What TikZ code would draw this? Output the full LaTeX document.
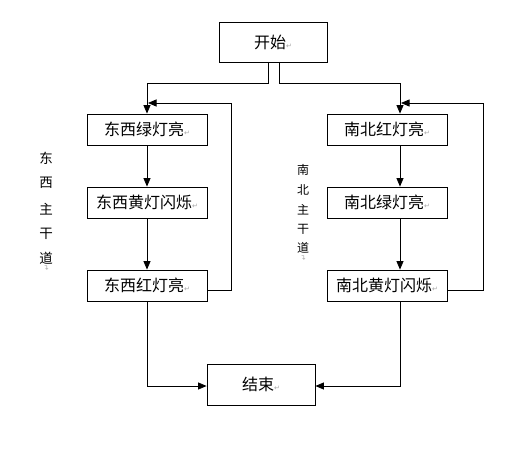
\documentclass[tikz,border=0pt]{standalone}
\usepackage{fontspec}
\newfontfamily\cjk{Noto Sans CJK SC}
\newfontfamily\djv{DejaVu Sans}
\usetikzlibrary{arrows.meta}
\newcommand\pmk{{\djv\color{black!35}\fontsize{7}{7}\selectfont ↵}}
\tikzset{
  stepbox/.style={draw=black,line width=0.8pt,minimum width=120pt,minimum height=31pt,inner sep=0pt,font=\cjk\fontsize{16}{16}\selectfont},
  termbox/.style={stepbox,minimum width=108pt,minimum height=40pt},
  conn/.style={draw=black,line width=0.8pt},
  arr/.style={conn,-{Triangle[length=8.5pt,width=7pt]}},
  vlabel/.style={font=\cjk\fontsize{13.5}{14}\selectfont,inner sep=0pt},
  vlabelb/.style={font=\cjk\fontsize{12}{12}\selectfont,inner sep=0pt}
}
\begin{document}
\begin{tikzpicture}[x=1pt,y=-1pt]
\useasboundingbox[fill=white] (0,0) rectangle (518,449);
% nodes
\node[termbox] (start) at (273,42) {开始\pmk};
\node[stepbox] (L1) at (147,129.5) {东西绿灯亮\pmk};
\node[stepbox] (L2) at (147,202.5) {东西黄灯闪烁\pmk};
\node[stepbox] (L3) at (147,285.5) {东西红灯亮\pmk};
\node[stepbox] (R1) at (387,129.5) {南北红灯亮\pmk};
\node[stepbox] (R2) at (387,202.5) {南北绿灯亮\pmk};
\node[stepbox] (R3) at (387,285.5) {南北黄灯闪烁\pmk};
\node[termbox,minimum height=41pt] (end) at (261,384.5) {结束\pmk};
% vertical labels
\node[vlabel] (a1) at (46,158) {东};
\node[vlabel] (a2) at (46,183) {西};
\node[vlabel] (a3) at (46,209) {主};
\node[vlabel] (a4) at (46,234) {干};
\node[vlabel] (a5) at (46,258) {道};
\node[inner sep=0pt,rotate=90] (a6) at (47,268) {\pmk};
\node[vlabelb] (b1) at (303,170) {南};
\node[vlabelb] (b2) at (303,190) {北};
\node[vlabelb] (b3) at (303,210) {主};
\node[vlabelb] (b4) at (303,229) {干};
\node[vlabelb] (b5) at (303,248) {道};
\node[inner sep=0pt,rotate=90] (b6) at (304,258) {\pmk};
% helper coordinates
\coordinate (sL) at (268,62);
\coordinate (sR) at (279,62);
\coordinate (xL) at (147,0);
\coordinate (xR) at (400,0);
% start to columns
\draw[arr] (sL) -- (268,83) -- (147,83) -- (L1.north -| xL);
\draw[arr] (sR) -- (279,83) -- (400,83) -- (R1.north -| xR);
% columns
\draw[arr] (L1.south -| xL) -- (L2.north -| xL);
\draw[arr] (L2.south -| xL) -- (L3.north -| xL);
\draw[arr] (R1.south -| xR) -- (R2.north -| xR);
\draw[arr] (R2.south -| xR) -- (R3.north -| xR);
% loops
\draw[arr] (L3.east |- 0,290) -- (231,290) -- (231,103) -- (148,103);
\draw[arr] (R3.east |- 0,290) -- (483,290) -- (483,103) -- (401,103);
% to end
\draw[arr] (L3.south -| xL) -- (147,386) -- (end.west |- 0,386);
\draw[arr] (R3.south -| xR) -- (400,386) -- (end.east |- 0,386);
\end{tikzpicture}
\end{document}
